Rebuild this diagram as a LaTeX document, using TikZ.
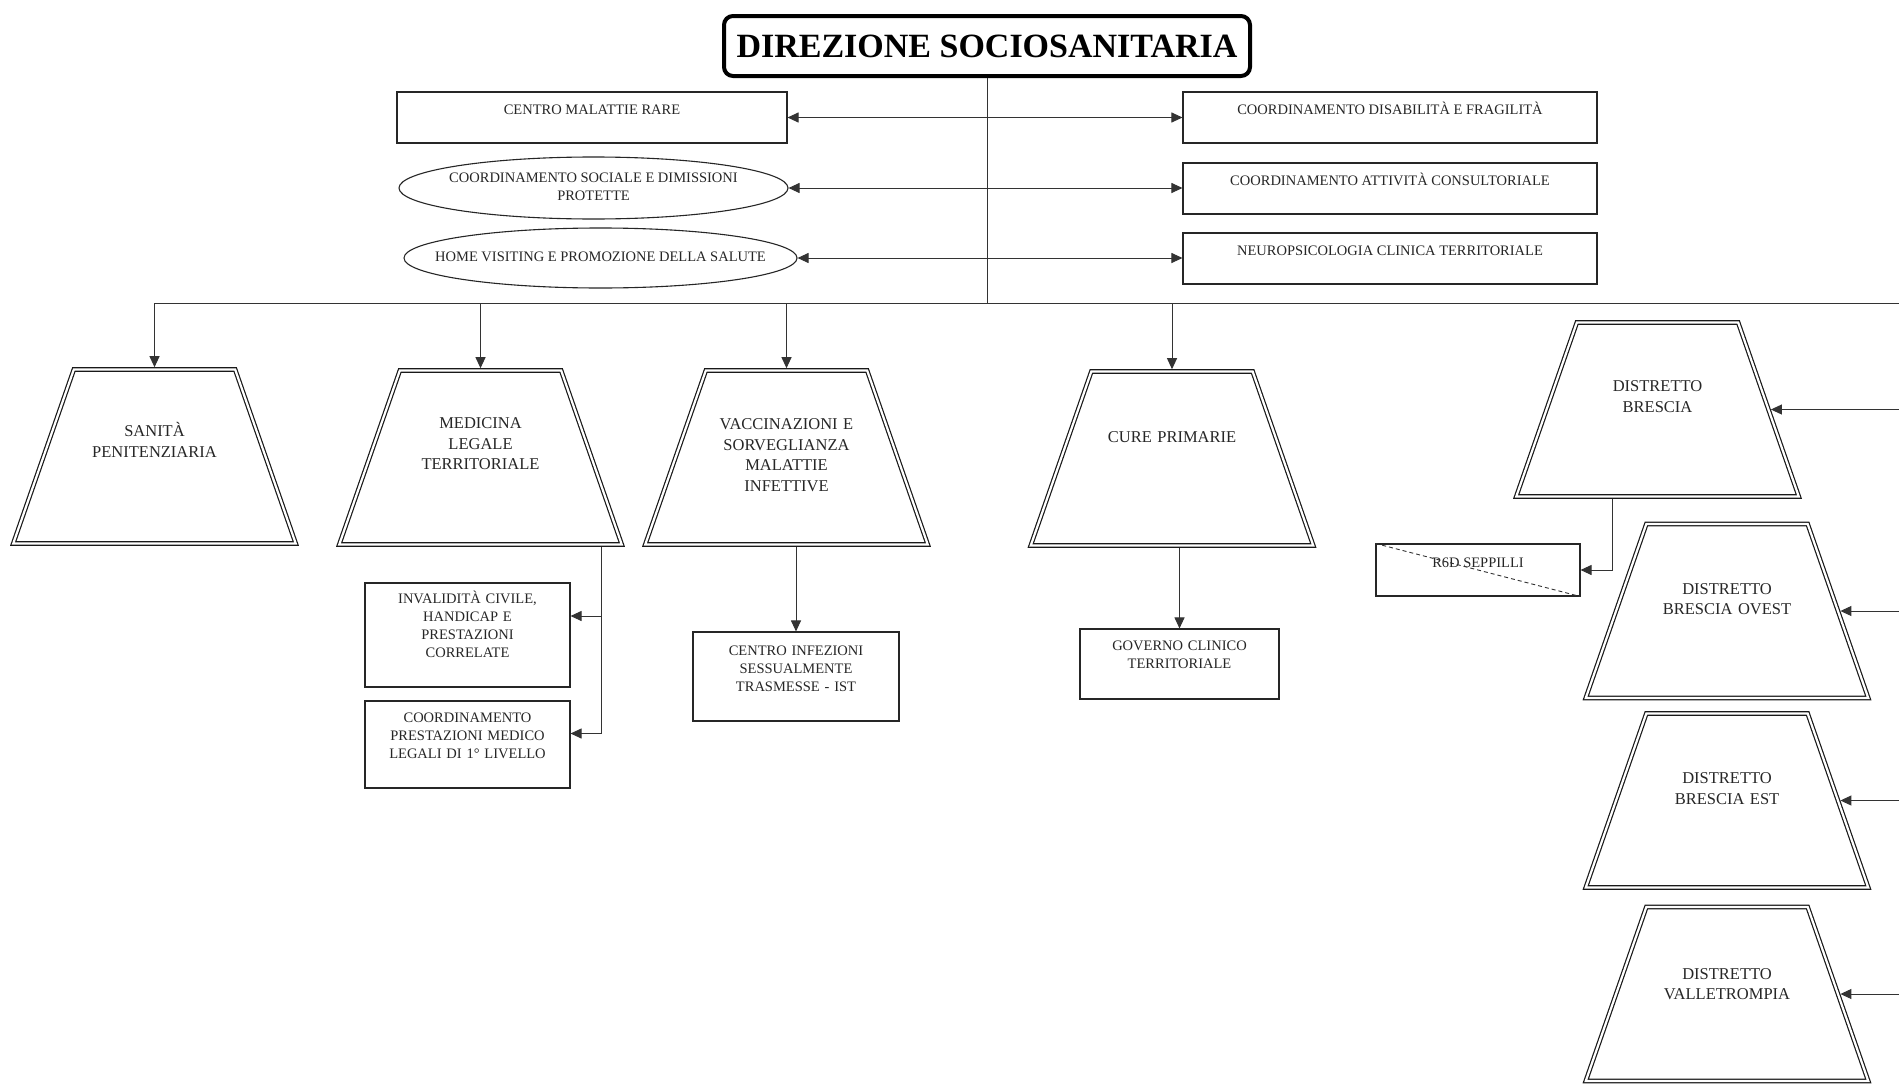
\documentclass[tikz,border=0pt]{standalone}
\usepackage{fontspec}
\setmainfont{Liberation Serif}
\usetikzlibrary{shapes.geometric,arrows.meta}

% centred multi-line text of zero width (used inside the ellipses)
\newcommand{\zerowide}[1]{\makebox[0pt]{\begin{tabular}{@{}c@{}}#1\end{tabular}}}

\tikzset{
  conn/.style={draw=black!80, line width=1pt},
  arr/.style={conn, -{Triangle[length=11pt,width=10pt]}},
  dblarr/.style={conn, {Triangle[length=11pt,width=10pt]}-{Triangle[length=11pt,width=10pt]}},
  small/.style={font=\fontsize{14.5}{18.3}\selectfont, text=black!85},
  big/.style={font=\fontsize{16.5}{20.5}\selectfont, text=black!85},
  titlebox/.style={rectangle, rounded corners=9pt, draw=black, line width=4pt,
    minimum width=526pt, minimum height=60pt, inner sep=0pt, text=black,
    font=\fontsize{34}{40}\selectfont\bfseries},
  % single-line box: width, height, text height, text depth
  topbox/.style n args={4}{rectangle, draw=black!85, line width=1.1pt, small,
    inner sep=0pt, minimum width=#1pt, minimum height=#2pt,
    text height=#3pt, text depth=#4pt},
  % multi-line box: width, height, text height, text depth
  subbox/.style n args={4}{rectangle, draw=black!85, line width=1.1pt, small,
    inner sep=0pt, minimum width=#1pt, minimum height=#2pt,
    text width=190pt, align=center, text height=#3pt, text depth=#4pt},
  ellbox/.style 2 args={ellipse, draw=black!85, line width=1.1pt, small,
    inner sep=0pt, minimum width=#1pt, minimum height=#2pt},
  % double-lined trapezium: text height, text depth
  trap/.style 2 args={trapezium, trapezium angle=70.8, trapezium stretches body,
    draw=black!90, line width=1.2pt, double=white, double distance=2.2pt,
    minimum width=282.5pt, minimum height=174pt, inner sep=0pt, outer sep=2.3pt,
    big, text width=150pt, align=center, text height=#1pt, text depth=#2pt},
}

\begin{document}
\begin{tikzpicture}[x=1pt,y=-1pt]
\fill[white] (0,0) rectangle (1899,1084);
\useasboundingbox (0,0) rectangle (1899,1084);

% head
\node[titlebox] (dir) at (987,46) {DIREZIONE SOCIOSANITARIA};

% staff units on the left
\node[topbox={390}{51}{22}{29}] (cmr) at (592,117.5) {CENTRO MALATTIE RARE};
\node[ellbox={389}{62}] (csdp) at (593.5,188) {\zerowide{COORDINAMENTO SOCIALE E DIMISSIONI\\PROTETTE}};
\node[ellbox={393}{60}] (hv) at (600.5,258) {\zerowide{HOME VISITING E PROMOZIONE DELLA SALUTE}};

% staff units on the right
\node[topbox={414}{51}{22}{29}] (cdf) at (1390,117.5) {COORDINAMENTO DISABILIT\`A E FRAGILIT\`A};
\node[topbox={414}{51}{22}{29}] (cac) at (1390,188.5) {COORDINAMENTO ATTIVIT\`A CONSULTORIALE};
\node[topbox={414}{51}{22}{29}] (nct) at (1390,258.5) {NEUROPSICOLOGIA CLINICA TERRITORIALE};

% line units
\node[trap={67}{107}] (san) at (154.5,456.5) {SANIT\`A\\PENITENZIARIA};
\node[trap={58}{116}] (med) at (480.5,457.5) {MEDICINA\\LEGALE\\TERRITORIALE};
\node[trap={59}{115}] (vac) at (786.5,457.5) {VACCINAZIONI E\\SORVEGLIANZA\\MALATTIE\\INFETTIVE};
\node[trap={71}{103}] (cur) at (1172,458.5) {CURE PRIMARIE};

% districts
\node[trap={69}{105}] (db) at (1657.5,409.5) {DISTRETTO\\BRESCIA};
\node[trap={70}{104}] (dbo) at (1727,611) {DISTRETTO\\BRESCIA OVEST};
\node[trap={70}{104}] (dbe) at (1727,800.5) {DISTRETTO\\BRESCIA EST};
\node[trap={72}{102}] (dvt) at (1727,994) {DISTRETTO\\VALLETROMPIA};

% second-level units
\node[subbox={205}{104}{20}{84}] (inv) at (467.5,635) {INVALIDIT\`A CIVILE,\\HANDICAP E\\PRESTAZIONI\\CORRELATE};
\node[subbox={205}{87}{21}{66}] (cpm) at (467.5,744.5) {COORDINAMENTO\\PRESTAZIONI MEDICO\\LEGALI DI 1\textdegree{} LIVELLO};
\node[subbox={206}{89}{23}{66}] (cist) at (796,676.5) {CENTRO INFEZIONI\\SESSUALMENTE\\TRASMESSE - IST};
\node[subbox={199}{70}{21}{49}] (gct) at (1179.5,664) {GOVERNO CLINICO\\TERRITORIALE};
\node[topbox={204}{52}{23}{29}] (r6d) at (1478,570) {R6D SEPPILLI};
\draw[black!80, line width=0.9pt, dash pattern=on 4pt off 3pt] (r6d.north west) -- (r6d.south east);

% connectors
\coordinate (bar) at (987,303);
\coordinate (rim) at (1899,303);
\draw[conn] (dir.south) -- (dir.south |- bar);
\draw[conn] (san.north |- bar) -- (rim);
\foreach \u in {san,med,vac,cur}
  \draw[arr] (\u.north |- bar) -- (\u.north);

\draw[dblarr] (cmr.east) -- (cmr.east -| cdf.west);
\draw[dblarr] (csdp.east) -- (csdp.east -| cac.west);
\draw[dblarr] (hv.east) -- (hv.east -| nct.west);

\foreach \d in {db,dbo,dbe,dvt}
  \draw[arr] (\d.east -| rim) -- (\d.east);

\coordinate (medtap) at ([xshift=120.5pt]med.south);
\draw[arr] (medtap) |- ([yshift=19pt]inv.east);
\draw[arr] (medtap) |- ([yshift=11pt]cpm.east);
\draw[arr] (cist.north |- vac.south) -- (cist.north);
\draw[arr] (gct.north |- cur.south) -- (gct.north);
\coordinate (dbtap) at ([xshift=-45pt]db.south);
\draw[arr] (dbtap) |- (r6d.east);
\end{tikzpicture}
\end{document}
